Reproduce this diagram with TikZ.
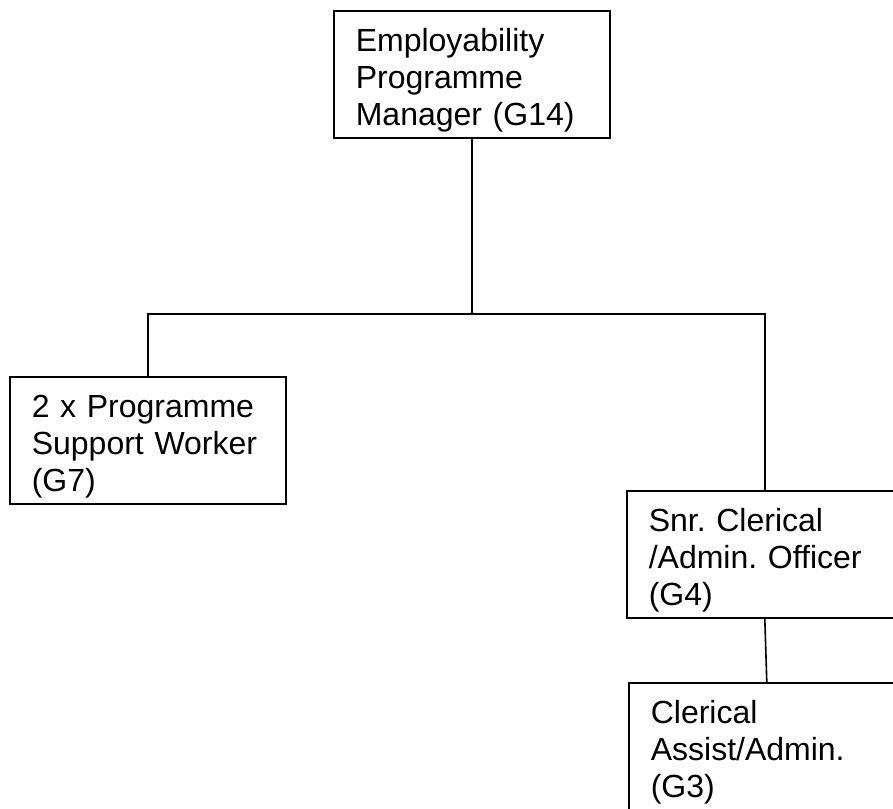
\documentclass[tikz,border=0pt]{standalone}
\usepackage{fontspec}
\setmainfont{Liberation Sans}
\frenchspacing
\usepackage{tikz}
\usetikzlibrary{positioning}
\tikzset{
    post/.style={rectangle, draw=black, line width=1.2pt, anchor=north west, align=left, text width=174pt, inner xsep=16.5pt, inner ysep=0pt, text height=30.75pt, text depth=64.5pt, font=\fontsize{24pt}{27.6pt}\selectfont},
    link/.style={line width=1.2pt, draw=black}
}
\begin{document}
\begin{tikzpicture}[x=0.75pt, y=-0.75pt]
    \useasboundingbox (0,0) rectangle (893,808);
    \clip (0,0) rectangle (893,808);

    \node (pm) [post] at (333,10) {Employability\\Programme\\Manager (G14)};
    \node (psw) [post] at (9,376) {2 x Programme\\Support Worker\\(G7)};
    \node (sco) [post] at (626,490) {Snr. Clerical\\/Admin. Officer\\(G4)};
    \node (ca) [post] at (628,682) {Clerical\\Assist/Admin.\\(G3)};

    \coordinate (split) at (pm.south |- 0,314);

    \draw [link] (pm.south) -- (split);
    \draw [link] (psw.north) |- (split) -| (sco.north);
    \draw [link] (sco.south) -- (ca.north);
\end{tikzpicture}
\end{document}
